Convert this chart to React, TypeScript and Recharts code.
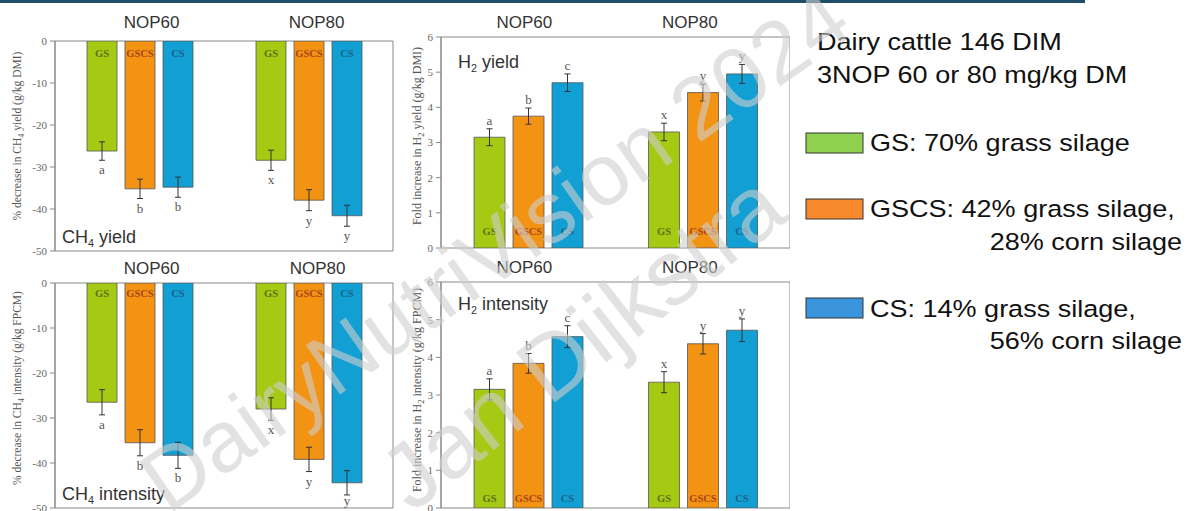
import React from 'react'
import { BarChart, Bar, XAxis, YAxis, ErrorBar, LabelList, ReferenceArea, Label } from 'recharts'

const SANS = '"Liberation Sans", Arial, sans-serif'
const SERIF = '"Liberation Serif", "Times New Roman", serif'

const doses = ['NOP60', 'NOP80']
const diets = ['GS', 'GSCS', 'CS']

// % decrease in CH4 yield (g/kg DMI)
const ch4YieldGS = [-26.2, -28.4]
const ch4YieldGSCS = [-35.2, -37.9]
const ch4YieldCS = [-34.8, -41.6]
const ch4YieldErrGS = [2.2, 2.4]
const ch4YieldErrGSCS = [2.3, 2.5]
const ch4YieldErrCS = [2.4, 2.5]

// % decrease in CH4 intensity (g/kg FPCM)
const ch4IntGS = [-26.5, -28.0]
const ch4IntGSCS = [-35.5, -39.2]
const ch4IntCS = [-38.3, -44.4]
const ch4IntErrGS = [2.8, 2.5]
const ch4IntErrGSCS = [2.9, 2.7]
const ch4IntErrCS = [2.9, 2.7]

// fold increase in H2 yield (g/kg DMI)
const h2YieldGS = [3.15, 3.3]
const h2YieldGSCS = [3.75, 4.42]
const h2YieldCS = [4.7, 4.95]
const h2YieldErrGS = [0.24, 0.25]
const h2YieldErrGSCS = [0.23, 0.24]
const h2YieldErrCS = [0.25, 0.27]

// fold increase in H2 intensity (g/kg FPCM)
const h2IntGS = [3.15, 3.34]
const h2IntGSCS = [3.84, 4.36]
const h2IntCS = [4.55, 4.72]
const h2IntErrGS = [0.28, 0.28]
const h2IntErrGSCS = [0.26, 0.27]
const h2IntErrCS = [0.29, 0.3]

// significance letters
const ch4LettersGS = ['a', 'x']
const ch4LettersGSCS = ['b', 'y']
const ch4LettersCS = ['b', 'y']
const h2LettersGS = ['a', 'x']
const h2LettersGSCS = ['b', 'y']
const h2LettersCS = ['c', 'y']

const ch4Ticks = [0, -10, -20, -30, -40, -50]
const h2Ticks = [0, 1, 2, 3, 4, 5, 6]

const COLORS: Record<string, string> = { GS: '#a6c913', GSCS: '#f39313', CS: '#129fd3' }
const INNER_COLORS: Record<string, string> = { GS: '#5a7118', GSCS: '#a8431b', CS: '#1f5f88' }

function buildRows(vals: number[][], errs: number[][], letters: string[][]) {
  return doses.map((dose, i) => {
    const row: any = { dose }
    diets.forEach((d, j) => {
      row[d] = vals[j][i]
      row[d + 'Err'] = errs[j][i]
      row[d + 'Let'] = letters[j][i]
    })
    return row
  })
}

const ch4YieldRows = buildRows(
  [ch4YieldGS, ch4YieldGSCS, ch4YieldCS],
  [ch4YieldErrGS, ch4YieldErrGSCS, ch4YieldErrCS],
  [ch4LettersGS, ch4LettersGSCS, ch4LettersCS],
)
const ch4IntRows = buildRows(
  [ch4IntGS, ch4IntGSCS, ch4IntCS],
  [ch4IntErrGS, ch4IntErrGSCS, ch4IntErrCS],
  [ch4LettersGS, ch4LettersGSCS, ch4LettersCS],
)
const h2YieldRows = buildRows(
  [h2YieldGS, h2YieldGSCS, h2YieldCS],
  [h2YieldErrGS, h2YieldErrGSCS, h2YieldErrCS],
  [h2LettersGS, h2LettersGSCS, h2LettersCS],
)
const h2IntRows = buildRows(
  [h2IntGS, h2IntGSCS, h2IntCS],
  [h2IntErrGS, h2IntErrGSCS, h2IntErrCS],
  [h2LettersGS, h2LettersGSCS, h2LettersCS],
)

function rectOf(props: any) {
  const vb = props.viewBox && props.viewBox.width != null ? props.viewBox : props
  return { x: Number(vb.x), y: Number(vb.y), w: Number(vb.width), h: Number(vb.height) }
}

function rowIndex(props: any, rows: any[], diet: string) {
  if (typeof props.index === 'number') return props.index
  return rows.findIndex((r) => r[diet] === props.value)
}

interface PanelProps {
  rows: any[]
  left: number
  top: number
  width: number
  height: number
  margin: { top: number; right: number; bottom: number; left: number }
  yAxisWidth: number
  xAxisHeight: number
  padRight: number
  titleY: number
  titleDx: number[]
  domain: [number, number]
  ticks: number[]
  negative: boolean
  barSize: number
  innerOffset: number
  labelX: number
  labelY: number
  labelSize: number
  yLabel: [string, string, string]
}

function Panel(p: PanelProps) {
  const plotBottom = p.height - p.margin.bottom

  const innerLabel = (diet: string) => (props: any) => {
    const { x, y, w, h } = rectOf(props)
    const zero = p.negative ? Math.min(y, y + h) : Math.max(y, y + h)
    const ty = p.negative ? zero + p.innerOffset : zero - p.innerOffset
    return (
      <text x={x + w / 2} y={ty} textAnchor="middle" fontFamily={SERIF} fontWeight="bold"
        fontSize={10.5} fill={INNER_COLORS[diet]}>
        {diet}
      </text>
    )
  }

  const letterLabel = (diet: string) => (props: any) => {
    const { x, y, w, h } = rectOf(props)
    const row = p.rows[rowIndex(props, p.rows, diet)]
    if (!row) return null
    const pxPerUnit = Math.abs(h) / Math.abs(row[diet])
    const errPx = row[diet + 'Err'] * pxPerUnit
    let ty: number
    if (p.negative) {
      const end = Math.max(y, y + h)
      ty = Math.min(end + errPx + 14, plotBottom - 3)
    } else {
      const end = Math.min(y, y + h)
      ty = end - errPx - 4
    }
    return (
      <text x={x + w / 2} y={ty} textAnchor="middle" fontFamily={SERIF} fontSize={13} fill="#555">
        {row[diet + 'Let']}
      </text>
    )
  }

  const yLabelContent = () => {
    const [pre, sub, post] = p.yLabel
    return (
      <text transform={`translate(${p.labelX},${p.labelY}) rotate(-90)`} textAnchor="middle"
        fontFamily={SERIF} fontSize={p.labelSize} fill="#555">
        {pre}
        <tspan fontSize={p.labelSize * 0.7} dy={3}>{sub}</tspan>
        <tspan dy={-3}>{post}</tspan>
      </text>
    )
  }

  return (
    <div style={{ position: 'absolute', left: p.left, top: p.top }}>
      <BarChart width={p.width} height={p.height} data={p.rows} margin={p.margin} barGap={8}>
        <XAxis
          dataKey="dose"
          orientation="top"
          height={p.xAxisHeight}
          axisLine={false}
          tickLine={false}
          padding={{ left: 0, right: p.padRight }}
          tick={(t: any) => (
            <text x={t.x + p.titleDx[t.index]} y={p.titleY} textAnchor="middle"
              fontFamily={SANS} fontSize={17} fill="#333">
              {t.payload.value}
            </text>
          )}
        />
        <YAxis
          width={p.yAxisWidth}
          domain={p.domain}
          ticks={p.ticks}
          interval={0}
          allowDataOverflow
          stroke="#888"
          tickSize={5}
          tickMargin={3}
          tick={{ fontFamily: SERIF, fontSize: 11, fill: '#666' }}
        >
          <Label content={yLabelContent} />
        </YAxis>
        <ReferenceArea y1={p.domain[0]} y2={p.domain[1]} fill="none" stroke="#888" strokeWidth={1}
          ifOverflow="visible" />
        {diets.map((d) => (
          <Bar key={d} dataKey={d} fill={COLORS[d]} stroke="#555" strokeWidth={0.8}
            barSize={p.barSize} isAnimationActive={false}>
            <ErrorBar dataKey={d + 'Err'} width={3} stroke="#333" strokeWidth={1} />
            <LabelList dataKey={d} content={innerLabel(d)} />
            <LabelList dataKey={d} content={letterLabel(d)} />
          </Bar>
        ))}
      </BarChart>
    </div>
  )
}

function Sub({ x, y, size, pre, sub, post }: any) {
  return (
    <text x={x} y={y} fontFamily={SANS} fontSize={size} fill="#333">
      {pre}
      <tspan fontSize={size * 0.6} dy={4}>{sub}</tspan>
      <tspan dy={-4}>{post}</tspan>
    </text>
  )
}

// legend text in the slide is a little wider than plain Arial
function Wide({ x, y, end, children }: any) {
  return (
    <text transform={`translate(${x} ${y}) scale(1.15 1)`} textAnchor={end ? 'end' : 'start'}>
      {children}
    </text>
  )
}

export default function App() {
  return (
    <div style={{ position: 'absolute', left: 0, top: 0, width: 1194, height: 511, background: '#fff', overflow: 'hidden' }}>
      <Panel rows={ch4YieldRows} left={0} top={0} width={400} height={260}
        margin={{ top: 0, right: 10, bottom: 9, left: 0 }} yAxisWidth={55} xAxisHeight={41} padRight={-3}
        titleY={28} titleDx={[12, 8]} domain={[-50, 0]} ticks={ch4Ticks} negative barSize={30}
        innerOffset={16} labelX={21} labelY={136} labelSize={11.5}
        yLabel={['% decrease in CH', '4', ' yield (g/kg DMI)']} />
      <Panel rows={ch4IntRows} left={0} top={240} width={400} height={271}
        margin={{ top: 0, right: 10, bottom: 3, left: 0 }} yAxisWidth={55} xAxisHeight={43} padRight={-3}
        titleY={34} titleDx={[12, 9]} domain={[-50, 0]} ticks={ch4Ticks} negative barSize={30}
        innerOffset={14} labelX={21} labelY={148} labelSize={11.5}
        yLabel={['% decrease in CH', '4', ' intensity (g/kg FPCM)']} />
      <Panel rows={h2YieldRows} left={390} top={0} width={400} height={260}
        margin={{ top: 0, right: 12, bottom: 12, left: 0 }} yAxisWidth={51} xAxisHeight={37} padRight={-12}
        titleY={28} titleDx={[-4, -13]} domain={[0, 6]} ticks={h2Ticks} negative={false} barSize={31}
        innerOffset={13} labelX={31} labelY={136} labelSize={12}
        yLabel={['Fold increase in H', '2', ' yield (g/kg DMI)']} />
      <Panel rows={h2IntRows} left={390} top={240} width={400} height={271}
        margin={{ top: 0, right: 12, bottom: 3, left: 0 }} yAxisWidth={51} xAxisHeight={42} padRight={-12}
        titleY={33} titleDx={[-4, -13]} domain={[0, 6]} ticks={h2Ticks} negative={false} barSize={31}
        innerOffset={6} labelX={31} labelY={150} labelSize={12}
        yLabel={['Fold increase in H', '2', ' intensity (g/kg FPCM)']} />

      <svg width={1194} height={511} style={{ position: 'absolute', left: 0, top: 0, pointerEvents: 'none' }}>
        <rect x={0} y={0} width={1085} height={3} fill="#1f4e6b" />

        <Sub x={62} y={243} size={18} pre="CH" sub="4" post=" yield" />
        <Sub x={62} y={500} size={18} pre="CH" sub="4" post=" intensity" />
        <Sub x={458} y={68} size={18} pre="H" sub="2" post=" yield" />
        <Sub x={458} y={310} size={18} pre="H" sub="2" post=" intensity" />

        <g fontFamily={SANS} fontSize={23.5} fill="#111">
          <Wide x={817} y={50}>Dairy cattle 146 DIM</Wide>
          <Wide x={817} y={83}>3NOP 60 or 80 mg/kg DM</Wide>
          <rect x={806} y={133} width={57} height={20} fill="#8fd14f" stroke="#333" />
          <Wide x={870} y={151}>GS: 70% grass silage</Wide>
          <rect x={806} y={199} width={57} height={20} fill="#f5892b" stroke="#333" />
          <Wide x={870} y={217}>GSCS: 42% grass silage,</Wide>
          <Wide x={1182} y={250} end>28% corn silage</Wide>
          <rect x={806} y={298} width={57} height={20} fill="#3b95dc" stroke="#333" />
          <Wide x={870} y={317}>CS: 14% grass silage,</Wide>
          <Wide x={1182} y={349} end>56% corn silage</Wide>
        </g>

        <g fontFamily={SANS} fill="#cfcfcf" fillOpacity={0.6}>
          <text x={168} y={515} fontSize={87} transform="rotate(-35 168 515)">DairyNutriVision 2024</text>
          <text x={412} y={514} fontSize={92} transform="rotate(-38 412 514)">Jan Dijkstra</text>
        </g>
      </svg>
    </div>
  )
}
